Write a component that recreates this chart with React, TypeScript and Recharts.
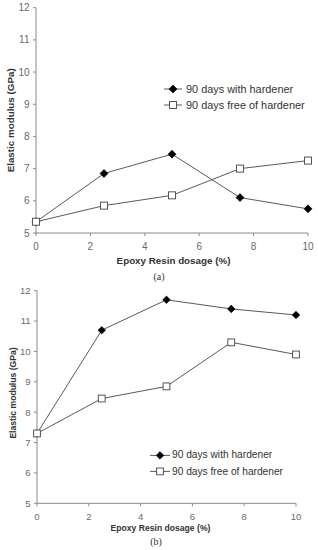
import React from 'react';
import { LineChart, Line, XAxis, YAxis, Legend, Label } from 'recharts';

const dosage = [0, 2.5, 5, 7.5, 10];
const withHardenerA = [5.35, 6.85, 7.45, 6.1, 5.75];
const freeOfHardenerA = [5.35, 5.85, 6.17, 7.0, 7.25];
const withHardenerB = [7.3, 10.7, 11.7, 11.4, 11.2];
const freeOfHardenerB = [7.3, 8.45, 8.85, 10.3, 9.9];
const xTicks = [0, 2, 4, 6, 8, 10];
const yTicks = [5, 6, 7, 8, 9, 10, 11, 12];
const seriesKeys = ['withH', 'freeH'];
const seriesNames = ['90 days with hardener', '90 days free of hardener'];
const xTitle = 'Epoxy Resin dosage (%)';
const yTitle = 'Elastic modulus (GPa)';
const captions = ['(a)', '(b)'];

const buildData = (w: number[], f: number[]) =>
  dosage.map((d, i) => ({ dosage: d, withH: w[i], freeH: f[i] }));

const FONT = '"Liberation Sans", Arial, sans-serif';
const LINE = '#5a5a5a';
const AXIS = '#8a8a8a';
const TICK = '#6a6a6a';

const Diamond = ({ cx, cy, r }: any) => (
  <polygon
    points={`${cx},${cy - r} ${cx + r},${cy} ${cx},${cy + r} ${cx - r},${cy}`}
    fill="#000"
    stroke="#000"
    strokeWidth={0.6}
  />
);
const Square = ({ cx, cy, s }: any) => (
  <rect x={cx - s} y={cy - s} width={2 * s} height={2 * s} fill="#fff" stroke="#555" strokeWidth={1} />
);

type Cfg = {
  top: number;
  height: number;
  marginTop: number;
  marginRight: number;
  yWidth: number;
  xHeight: number;
  tickFont: number;
  titleFont: number;
  legendFont: number;
  legendLeft: number;
  legendTop: number;
  legendRowH: number;
  legendLineW: number;
  legendGap: number;
  xTitleDy: number;
  xTitleDx: number;
  yTitleX: number;
  yTitleDy: number;
  r: number;
  s: number;
};

const makeLegend = (cfg: Cfg) => (props: any) => {
  const payload = [...(props.payload || [])].sort(
    (a: any, b: any) => seriesKeys.indexOf(a.dataKey) - seriesKeys.indexOf(b.dataKey)
  );
  return (
    <div>
      {payload.map((entry: any, i: number) => {
        const mid = cfg.legendRowH / 2;
        const c = cfg.legendLineW / 2;
        return (
          <div key={`lg-${i}`} style={{ display: 'flex', alignItems: 'center', height: cfg.legendRowH }}>
            <svg width={cfg.legendLineW} height={cfg.legendRowH} style={{ display: 'block' }}>
              <line x1={0} y1={mid} x2={cfg.legendLineW} y2={mid} stroke={LINE} strokeWidth={1} />
              {entry.dataKey === 'withH' ? (
                <Diamond cx={c} cy={mid} r={cfg.r} />
              ) : (
                <Square cx={c} cy={mid} s={cfg.s} />
              )}
            </svg>
            <span
              style={{
                marginLeft: cfg.legendGap,
                fontFamily: FONT,
                fontSize: cfg.legendFont,
                color: '#333',
                whiteSpace: 'nowrap',
                lineHeight: 1,
              }}
            >
              {entry.value}
            </span>
          </div>
        );
      })}
    </div>
  );
};

const Panel = ({ data, cfg }: { data: any[]; cfg: Cfg }) => (
  <div style={{ position: 'absolute', left: 0, top: cfg.top }}>
    <LineChart
      width={318}
      height={cfg.height}
      data={data}
      margin={{ top: cfg.marginTop, right: cfg.marginRight, left: 0, bottom: 0 }}
    >
      <XAxis
        dataKey="dosage"
        type="number"
        domain={[0, 10]}
        ticks={xTicks}
        height={cfg.xHeight}
        tickSize={3}
        tickMargin={7}
        stroke={AXIS}
        tick={{ fill: TICK, fontSize: cfg.tickFont, fontFamily: FONT }}
      >
        <Label
          content={(p: any) => {
            const vb = p.viewBox;
            return (
              <text
                x={vb.x + vb.width / 2 + cfg.xTitleDx}
                y={vb.y + cfg.xTitleDy}
                textAnchor="middle"
                dominantBaseline="central"
                fontFamily={FONT}
                fontWeight="bold"
                fontSize={cfg.titleFont}
                fill="#333"
              >
                {xTitle}
              </text>
            );
          }}
        />
      </XAxis>
      <YAxis
        type="number"
        domain={[5, 12]}
        ticks={yTicks}
        width={cfg.yWidth}
        tickSize={3}
        tickMargin={3.5}
        stroke={AXIS}
        interval={0}
        tick={{ fill: TICK, fontSize: cfg.tickFont, fontFamily: FONT }}
      >
        <Label
          content={(p: any) => {
            const vb = p.viewBox;
            const cy = vb.y + vb.height / 2 + cfg.yTitleDy;
            return (
              <text
                x={cfg.yTitleX}
                y={cy}
                transform={`rotate(-90 ${cfg.yTitleX} ${cy})`}
                textAnchor="middle"
                dominantBaseline="central"
                fontFamily={FONT}
                fontWeight="bold"
                fontSize={cfg.titleFont}
                fill="#333"
              >
                {yTitle}
              </text>
            );
          }}
        />
      </YAxis>
      <Legend
        layout="vertical"
        align="center"
        verticalAlign="middle"
        content={makeLegend(cfg)}
        wrapperStyle={{ position: 'absolute', left: cfg.legendLeft, top: cfg.legendTop, width: 'auto' }}
      />
      <Line
        dataKey="withH"
        name={seriesNames[0]}
        stroke={LINE}
        strokeWidth={1}
        isAnimationActive={false}
        dot={(p: any) => <Diamond key={`dw-${p.index}`} cx={p.cx} cy={p.cy} r={cfg.r} />}
        activeDot={false}
      />
      <Line
        dataKey="freeH"
        name={seriesNames[1]}
        stroke={LINE}
        strokeWidth={1}
        isAnimationActive={false}
        dot={(p: any) => <Square key={`df-${p.index}`} cx={p.cx} cy={p.cy} s={cfg.s} />}
        activeDot={false}
      />
    </LineChart>
  </div>
);

const cfgA: Cfg = {
  top: 0,
  height: 270,
  marginTop: 7.7,
  marginRight: 10,
  yWidth: 36,
  xHeight: 37,
  tickFont: 10,
  titleFont: 9.8,
  legendFont: 10.9,
  legendLeft: 164,
  legendTop: 81,
  legendRowH: 16,
  legendLineW: 18,
  legendGap: 4,
  xTitleDy: 27,
  xTitleDx: 1.5,
  yTitleX: 11,
  yTitleDy: 0,
  r: 4,
  s: 3.5,
};

const cfgB: Cfg = {
  top: 270,
  height: 280,
  marginTop: 20.7,
  marginRight: 22,
  yWidth: 37,
  xHeight: 46.7,
  tickFont: 9.5,
  titleFont: 8.6,
  legendFont: 10.2,
  legendLeft: 150,
  legendTop: 176.7,
  legendRowH: 16.8,
  legendLineW: 20,
  legendGap: 2,
  xTitleDy: 24.7,
  xTitleDx: -6,
  yTitleX: 12.5,
  yTitleDy: -4,
  r: 3.8,
  s: 3.4,
};

const captionStyle: React.CSSProperties = {
  position: 'absolute',
  fontFamily: '"Liberation Serif", "Times New Roman", serif',
  fontSize: 10,
  color: '#333',
  lineHeight: '10px',
  transform: 'translate(-50%, -50%)',
  whiteSpace: 'nowrap',
};

export default function App() {
  return (
    <div style={{ position: 'absolute', left: 0, top: 0, width: 318, height: 550, background: '#fff', overflow: 'hidden' }}>
      <Panel data={buildData(withHardenerA, freeOfHardenerA)} cfg={cfgA} />
      <Panel data={buildData(withHardenerB, freeOfHardenerB)} cfg={cfgB} />
      <div style={{ ...captionStyle, left: 159, top: 277 }}>{captions[0]}</div>
      <div style={{ ...captionStyle, left: 156, top: 542 }}>{captions[1]}</div>
    </div>
  );
}
